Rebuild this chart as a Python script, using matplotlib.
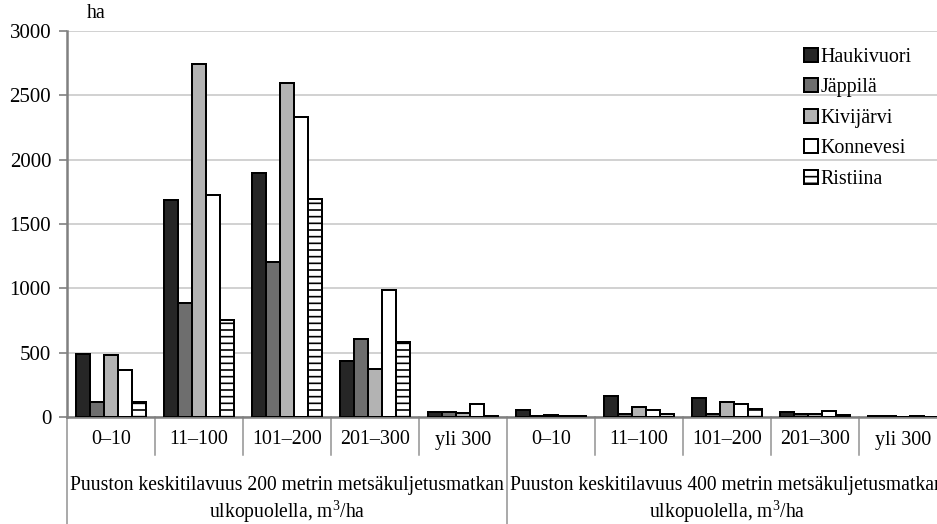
import matplotlib
matplotlib.use("Agg")
import matplotlib.pyplot as plt
import numpy as np
from matplotlib.patches import Patch

# Forest area (ha) by mean growing stock class, per municipality
classes = ["0–10", "11–100", "101–200", "201–300", "yli 300"]
tick_labels = classes + classes
group_labels = [
    "Puuston keskitilavuus 200 metrin metsäkuljetusmatkan\nulkopuolella, m$^{3}$/ha",
    "Puuston keskitilavuus 400 metrin metsäkuljetusmatkan\nulkopuolella, m$^{3}$/ha",
]
municipalities = ["Haukivuori", "Jäppilä", "Kivijärvi", "Konnevesi", "Ristiina"]

haukivuori = [493, 1690, 1900, 432, 38, 57, 165, 150, 35, 5]
jappila = [117, 884, 1205, 604, 42, 5, 22, 23, 22, 5]
kivijarvi = [485, 2742, 2595, 372, 30, 15, 78, 117, 20, 0]
konnevesi = [363, 1728, 2332, 984, 102, 10, 57, 104, 44, 4]
ristiina = [114, 752, 1697, 583, 10, 5, 21, 65, 19, 0]

series = [haukivuori, jappila, kivijarvi, konnevesi, ristiina]
face = ["#262626", "#6e6e6e", "#b3b3b3", "#ffffff", "#ffffff"]
hatches = [None, None, None, None, "---"]

plt.rcParams["font.family"] = ["Liberation Serif", "DejaVu Serif"]
plt.rcParams["mathtext.fontset"] = "custom"
plt.rcParams["mathtext.rm"] = "Liberation Serif"
plt.rcParams["mathtext.it"] = "Liberation Serif:italic"
plt.rcParams["hatch.linewidth"] = 1.0
plt.rcParams["hatch.color"] = "black"

DPI = 120
W, H = 937, 524
fig = plt.figure(figsize=(W / DPI, H / DPI), dpi=DPI)
x0, x1, y0, y1 = 67, 947, 31, 417
ax = fig.add_axes([x0 / W, 1 - y1 / H, (x1 - x0) / W, (y1 - y0) / H])

fs = 12
n = len(series)
bw = 0.157
x = np.arange(len(tick_labels))
for k, (vals, fc, ht) in enumerate(zip(series, face, hatches)):
    ax.bar(x + (k - (n - 1) / 2) * bw, vals, bw, color=fc, edgecolor="black",
           linewidth=1.2, hatch=ht, label=municipalities[k], zorder=3)

ax.set_xlim(-0.5, len(tick_labels) - 0.5)
ax.set_ylim(0, 3000)
ax.set_yticks(np.arange(0, 3001, 500))
ax.yaxis.grid(True, color="#c4c4c4", linewidth=0.9, zorder=0)
ax.tick_params(axis="y", labelsize=12.5, length=5, color="#808080", width=1, pad=4.5)
ax.set_xticks([])
for s in ["top", "right"]:
    ax.spines[s].set_visible(False)
ax.spines["left"].set_color("#808080")
ax.spines["left"].set_linewidth(1.5)
ax.spines["bottom"].set_color("#808080")
ax.spines["bottom"].set_linewidth(1.5)

fig.text(96 / W, 1 - 14 / H, "ha", fontsize=fs, ha="center", va="center")

trans = ax.get_xaxis_transform()
ax_h = y1 - y0
small = -(455 - y1) / ax_h
full = -(H - y1 + 2) / ax_h
for b in np.arange(0.5, len(tick_labels) - 1, 1.0):
    bottom = full if abs(b - 4.5) < 1e-9 else small
    ax.plot([b, b], [0, bottom], transform=trans, color="#909090", lw=0.9, clip_on=False)
ax.plot([-0.5, -0.5], [0, full], transform=trans, color="#909090", lw=0.9, clip_on=False)

for xi, lab in zip(x, tick_labels):
    ax.text(xi, -(440 - y1) / ax_h, lab, transform=trans, ha="center", va="center", fontsize=fs)

for gi, lab in enumerate(group_labels):
    ax.text(2 + 5 * gi, -(500.5 - y1) / ax_h, lab, transform=trans, ha="center", va="center",
            fontsize=11.75, linespacing=1.23)

handles = [Patch(facecolor=fc, edgecolor="black", hatch=ht, linewidth=1.2)
           for fc, ht in zip(face, hatches)]
fig.legend(handles, municipalities, loc="upper left", bbox_to_anchor=(794 / W, 1 - 38 / H),
           frameon=False, fontsize=fs, handlelength=0.7, handleheight=0.7,
           handletextpad=0.12, labelspacing=0.57, borderpad=0)

fig.savefig("out.png", dpi=DPI)
